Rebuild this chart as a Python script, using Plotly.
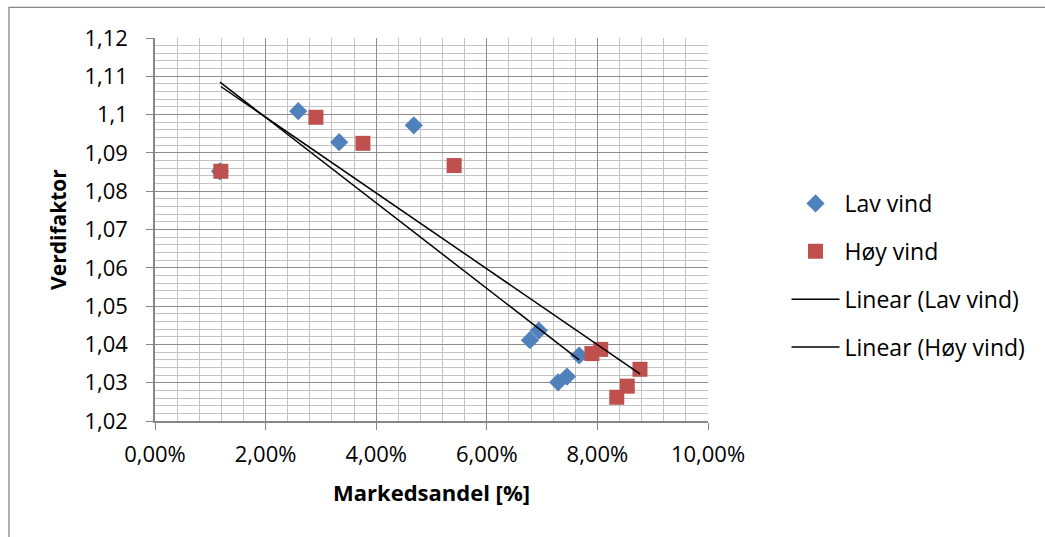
import numpy as np
import plotly.graph_objects as go

# Market share (fraction) and value factor per scenario
lav_x = [0.01175, 0.0259, 0.0333, 0.0468, 0.0678, 0.0694, 0.0767, 0.0729, 0.0745]
lav_y = [1.0852, 1.1009, 1.0928, 1.0972, 1.0411, 1.0436, 1.0371, 1.0301, 1.0316]

hoy_x = [0.0119, 0.0291, 0.0376, 0.0541, 0.0790, 0.0806, 0.0877, 0.0854, 0.0835]
hoy_y = [1.0852, 1.0993, 1.0925, 1.0867, 1.0376, 1.0387, 1.0335, 1.0291, 1.0262]

x_ticks = [0.0, 0.02, 0.04, 0.06, 0.08, 0.10]
y_ticks = [1.02, 1.03, 1.04, 1.05, 1.06, 1.07, 1.08, 1.09, 1.10, 1.11, 1.12]

FONT = "Open Sans"
BLUE = "#4F81BD"
RED = "#C0504D"
AXIS = "#868686"


def trend(xs, ys):
    k, m = np.polyfit(xs, ys, 1)
    x0, x1 = min(xs), max(xs)
    return [x0, x1], [k * x0 + m, k * x1 + m]


fig = go.Figure()
fig.add_trace(go.Scatter(
    x=lav_x, y=lav_y, mode="markers", name="Lav vind", legendgroup="a",
    marker=dict(symbol="diamond", size=14, color=BLUE, line=dict(width=0)),
))
fig.add_trace(go.Scatter(
    x=hoy_x, y=hoy_y, mode="markers", name="Høy vind", legendgroup="b",
    marker=dict(symbol="square", size=15, color=RED, line=dict(width=0)),
))
tx, ty = trend(lav_x, lav_y)
fig.add_trace(go.Scatter(
    x=tx, y=ty, mode="lines", name="Linear (Lav vind)", legendgroup="c",
    line=dict(color="black", width=1.5),
))
tx, ty = trend(hoy_x, hoy_y)
fig.add_trace(go.Scatter(
    x=tx, y=ty, mode="lines", name="Linear (Høy vind)", legendgroup="d",
    line=dict(color="black", width=1.5),
))

fig.update_layout(
    width=1045, height=537,
    margin=dict(l=155, r=337, t=38, b=116),
    paper_bgcolor="white", plot_bgcolor="white",
    separators=", ",
    font=dict(family=FONT, size=22, color="black"),
    showlegend=True,
    legend=dict(
        x=1.142, xanchor="left", y=0.38, yanchor="middle",
        font=dict(family=FONT, size=23, color="black"),
        tracegroupgap=15, traceorder="grouped", itemwidth=48,
        bgcolor="rgba(0,0,0,0)",
    ),
    xaxis=dict(
        range=[0, 0.10], tickvals=x_ticks, tickformat=".2%",
        showgrid=True, gridcolor="#8c8c8c", gridwidth=1,
        minor=dict(dtick=0.004, tick0=0, showgrid=True, gridcolor="#c3c3c3", gridwidth=1),
        showline=True, linecolor=AXIS, linewidth=1.5,
        ticks="outside", ticklen=7, tickcolor=AXIS,
        ticklabelstandoff=6, zeroline=False,
        title=dict(text="<b>Markedsandel [%]</b>", font=dict(size=22), standoff=18),
    ),
    yaxis=dict(
        range=[1.02, 1.12], tickvals=y_ticks,
        ticktext=[f"{v:g}".replace(".", ",") for v in y_ticks],
        showgrid=True, gridcolor="#8c8c8c", gridwidth=1,
        minor=dict(dtick=0.002, tick0=1.02, showgrid=True, gridcolor="#c3c3c3", gridwidth=1),
        showline=True, linecolor=AXIS, linewidth=1.5,
        ticks="outside", ticklen=7, tickcolor=AXIS,
        ticklabelstandoff=14, zeroline=False,
        title=dict(text="<b>Verdifaktor</b>", font=dict(size=21), standoff=12),
    ),
    shapes=[dict(
        type="rect", xref="paper", yref="paper",
        x0=-0.264, x1=1.65, y0=-0.35, y1=1.08,
        line=dict(color=AXIS, width=1.3), fillcolor="rgba(0,0,0,0)", layer="below",
    )],
)

fig.write_html("out.html")
